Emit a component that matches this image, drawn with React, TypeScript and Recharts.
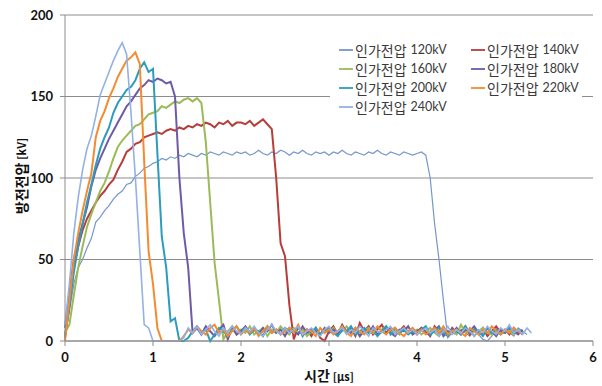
import { LineChart, Line, XAxis, YAxis, CartesianGrid, Legend, Label } from "recharts";

// time axis [µs], sampled every 0.05
const TIME = [
  0, 0.05, 0.1, 0.15, 0.2, 0.25, 0.3, 0.35, 0.4, 0.45, 0.5, 0.55, 0.6, 0.65, 0.7, 0.75, 0.8, 0.85, 0.9, 0.95,
  1, 1.05, 1.1, 1.15, 1.2, 1.25, 1.3, 1.35, 1.4, 1.45, 1.5, 1.55, 1.6, 1.65, 1.7, 1.75, 1.8, 1.85, 1.9, 1.95,
  2, 2.05, 2.1, 2.15, 2.2, 2.25, 2.3, 2.35, 2.4, 2.45, 2.5, 2.55, 2.6, 2.65, 2.7, 2.75, 2.8, 2.85, 2.9, 2.95,
  3, 3.05, 3.1, 3.15, 3.2, 3.25, 3.3, 3.35, 3.4, 3.45, 3.5, 3.55, 3.6, 3.65, 3.7, 3.75, 3.8, 3.85, 3.9, 3.95,
  4, 4.05, 4.1, 4.15, 4.2, 4.25, 4.3, 4.35, 4.4, 4.45, 4.5, 4.55, 4.6, 4.65, 4.7, 4.75, 4.8, 4.85, 4.9, 4.95,
  5, 5.05, 5.1, 5.15, 5.2, 5.25, 5.3,
];

// 방전전압 [kV] per applied voltage
const V120 = [
  3, 18, 35, 45, 50, 57, 63, 73, 76, 80, 83, 87, 90, 92, 96, 97, 101, 103, 106, 107,
  109, 110, 112, 111, 113, 112, 114, 113, 115, 114, 113, 115, 114, 116, 115, 114, 116, 115, 114, 116,
  115, 116, 114, 115, 117, 115, 114, 116, 115, 117, 116, 114, 116, 115, 117, 115, 114, 116, 115, 116,
  114, 116, 115, 117, 115, 114, 116, 115, 114, 116, 115, 117, 115, 114, 116, 115, 114, 116, 115, 114,
  115, 116, 114, 100, 72, 50, 25, 2, 5, 4, 7, 5, 3, 6, 4, 1, 0, 3, 6, 4,
  7, 5, 3, 8, 6, 4, null,
];
const V140 = [
  2, 22, 45, 58, 68, 75, 80, 85, 89, 92, 96, 99, 105, 110, 116, 118, 121, 122, 125, 126,
  127, 128, 127, 129, 130, 129, 131, 130, 132, 131, 133, 132, 134, 133, 131, 134, 133, 135, 132, 134,
  134, 133, 135, 132, 134, 136, 133, 130, 100, 60, 52, 22, 1, 9, 4, 7, 3, 8, 2, 0,
  6, 9, 4, 10, 5, 8, 3, 11, 6, 9, 4, 7, 10, 5, 8, 4, 6, 9, 5, 7,
  4, 8, 6, 3, 9, 5, 7, 4, 8, 5, 6, 9, 4, 7, 5, 8, 3, 6, 9, 5,
  7, 4, 8, 5, 6, null, null,
];
const V160 = [
  5, 10, 28, 45, 58, 70, 78, 85, 92, 97, 104, 112, 119, 123, 126, 129, 132, 133, 136, 139,
  140, 141, 144, 143, 145, 147, 146, 148, 149, 147, 149, 146, 122, 85, 48, 25, 1, 6, 9, 4,
  7, 5, 9, 4, 6, 8, 3, 7, 5, 9, 6, 4, 8, 5, 7, 3, 6, 8, 4, 7,
  5, 8, 4, 6, 9, 5, 7, 3, 6, 8, 5, 4, 7, 9, 5, 6, 4, 8, 6, 5,
  7, 4, 6, 8, 5, 3, 7, 5, 6, 4, 10, 5, 7, 3, 6, 8, 5, 4, 7, 5,
  5, 6, 4, 7, 5, null, null,
];
const V180 = [
  8, 30, 50, 62, 72, 82, 95, 105, 112, 118, 124, 129, 134, 139, 144, 147, 151, 155, 157, 160,
  159, 161, 160, 158, 159, 150, 100, 66, 45, 5, 8, 4, 9, 6, 3, 7, 10, 1, 8, 4,
  6, 9, 5, 7, 4, 8, 6, 10, 5, 7, 3, 8, 6, 4, 9, 5, 7, 6, 4, 8,
  5, 7, 4, 9, 6, 5, 8, 3, 7, 5, 9, 4, 6, 8, 5, 3, 7, 6, 9, 4,
  6, 8, 5, 4, 7, 9, 3, 6, 5, 8, 4, 7, 6, 9, 5, 4, 8, 6, 3, 7,
  5, 8, 6, 4, 7, null, null,
];
const V200 = [
  3, 22, 42, 58, 72, 85, 96, 108, 118, 125, 131, 140, 146, 150, 154, 156, 160, 167, 171, 165,
  167, 115, 64, 45, 12, 14, 0, 0, 2, 6, 9, 5, 7, 0, 4, 8, 6, 3, 7, 9,
  5, 8, 4, 7, 6, 3, 9, 5, 7, 4, 8, 6, 5, 9, 3, 7, 5, 8, 4, 6,
  8, 5, 3, 7, 6, 9, 4, 6, 8, 5, 7, 3, 6, 9, 4, 8, 5, 7, 4, 6,
  5, 7, 9, 4, 6, 8, 5, 3, 7, 6, 4, 9, 5, 7, 6, 3, 8, 5, 7, 4,
  6, 8, 5, 7, 4, null, null,
];
const V220 = [
  0, 25, 50, 66, 80, 92, 103, 125, 135, 141, 149, 155, 162, 167, 172, 174, 177, 170, 110, 55,
  35, 8, 0, 0, 0, 0, 0, 3, 7, 5, 9, 6, 4, 8, 10, 5, 7, 3, 6, 9,
  4, 7, 5, 8, 3, 6, 9, 5, 7, 4, 6, 8, 5, 10, 4, 7, 6, 3, 8, 5,
  7, 4, 6, 9, 5, 3, 8, 6, 4, 7, 5, 9, 6, 4, 7, 8, 5, 3, 6, 8,
  5, 7, 4, 6, 8, 5, 9, 4, 6, 7, 5, 3, 8, 6, 4, 7, 5, 9, 6, 4,
  7, 5, 8, 6, 4, null, null,
];
const V240 = [
  10, 35, 66, 88, 105, 118, 126, 138, 151, 158, 165, 172, 178, 183, 176, 140, 100, 55, 10, 8,
  0, 0, 0, 0, 0, 0, 0, 2, 8, 5, 9, 4, 7, 10, 6, 3, 8, 5, 9, 6,
  4, 8, 6, 9, 5, 3, 7, 10, 6, 4, 8, 5, 7, 9, 4, 6, 8, 5, 3, 7,
  9, 5, 6, 8, 4, 7, 5, 9, 6, 3, 8, 6, 5, 7, 9, 4, 6, 8, 5, 7,
  4, 6, 8, 5, 7, 3, 6, 9, 4, 7, 5, 8, 6, 3, 7, 5, 9, 6, 4, 8,
  6, 10, 5, 7, 4, 8, 5,
];

const SERIES = [
  { key: "v120", name: "120kV", values: V120, color: "#7596cc", width: 1.2 },
  { key: "v140", name: "140kV", values: V140, color: "#b83c3a", width: 2 },
  { key: "v160", name: "160kV", values: V160, color: "#9bbb59", width: 2 },
  { key: "v180", name: "180kV", values: V180, color: "#6f5aa5", width: 2 },
  { key: "v200", name: "200kV", values: V200, color: "#2b9cbf", width: 2 },
  { key: "v220", name: "220kV", values: V220, color: "#f38b30", width: 2 },
  { key: "v240", name: "240kV", values: V240, color: "#93b1e4", width: 1.6 },
];

const X_TICKS = [0, 1, 2, 3, 4, 5, 6];
const Y_TICKS = [0, 50, 100, 150, 200];

const data = TIME.map((t, i) => {
  const row: Record<string, number | null> = { t };
  SERIES.forEach((s) => {
    row[s.key] = s.values[i] ?? null;
  });
  return row;
});

const FONT = "Lato, 'Noto Sans CJK KR', sans-serif";
const KR_FONT = "'Noto Sans CJK KR', sans-serif";

function LegendBox() {
  return (
    <div
      style={{
        display: "grid",
        gridTemplateColumns: "132px 120px",
        background: "#fff",
        padding: "3px 0 4px 9px",
      }}
    >
      {SERIES.map((s) => (
        <div key={s.key} style={{ display: "flex", alignItems: "center", height: 19, whiteSpace: "nowrap" }}>
          <svg width={14} height={4} style={{ marginRight: 2 }}>
            <line x1={0} y1={2} x2={14} y2={2} stroke={s.color} strokeWidth={1.8} />
          </svg>
          <span style={{ fontFamily: KR_FONT, fontSize: 14, color: "#3a3a3a" }}>인가전압</span>
          <span style={{ fontFamily: FONT, fontSize: 12.5, color: "#3a3a3a", marginLeft: 4 }}>{s.name}</span>
        </div>
      ))}
    </div>
  );
}

function XTitle() {
  return (
    <text x={329} y={381} textAnchor="middle" fill="#111" fontWeight="bold" fontFamily={KR_FONT}>
      <tspan fontSize={14}>시간</tspan>
      <tspan fontSize={11} dx={3}>[μs]</tspan>
    </text>
  );
}

function YTitle() {
  return (
    <text
      x={21}
      y={176}
      transform="rotate(-90, 21, 176)"
      textAnchor="middle"
      dominantBaseline="central"
      fill="#111"
      fontWeight="bold"
      fontFamily={KR_FONT}
    >
      <tspan fontSize={14}>방전전압</tspan>
      <tspan fontSize={11} dx={3}>[kV]</tspan>
    </text>
  );
}

export default function App() {
  return (
    <div style={{ position: "fixed", left: 0, top: 0, width: 602, height: 386, background: "#fff" }}>
      <LineChart width={602} height={386} data={data} margin={{ top: 15, right: 9, left: 0, bottom: 0 }}>
        <CartesianGrid vertical={false} stroke="#8c8c8c" strokeWidth={1} />
        <XAxis
          type="number"
          dataKey="t"
          domain={[0, 6]}
          ticks={X_TICKS}
          height={45}
          tickSize={5}
          tickMargin={7}
          stroke="#8c8c8c"
          tick={{ fill: "#111", fontSize: 13, fontWeight: "bold", fontFamily: FONT }}
        >
          <Label content={XTitle} />
        </XAxis>
        <YAxis
          type="number"
          domain={[0, 200]}
          ticks={Y_TICKS}
          width={65}
          tickSize={5}
          tickMargin={7}
          stroke="#8c8c8c"
          tick={{ fill: "#111", fontSize: 13, fontWeight: "bold", fontFamily: FONT }}
        >
          <Label content={YTitle} />
        </YAxis>
        <Legend
          layout="vertical"
          align="center"
          verticalAlign="middle"
          content={LegendBox}
          wrapperStyle={{ top: 37, left: 330, width: 252, height: 78 }}
        />
        {SERIES.map((s) => (
          <Line
            key={s.key}
            type="linear"
            dataKey={s.key}
            name={s.name}
            stroke={s.color}
            strokeWidth={s.width}
            dot={false}
            activeDot={false}
            isAnimationActive={false}
          />
        ))}
      </LineChart>
    </div>
  );
}
